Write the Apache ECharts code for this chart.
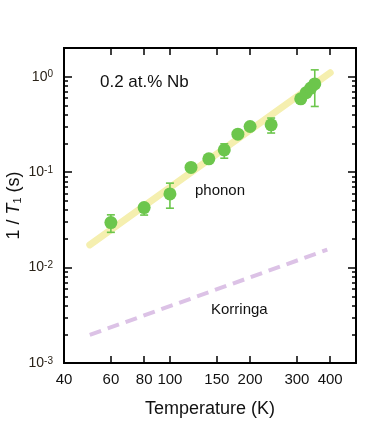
<!DOCTYPE html>
<html>
<head>
<meta charset="utf-8">
<style>
  html, body { margin:0; padding:0; background:#fff; }
  #main { width:382px; height:422px; }
</style>
<script src="https://cdn.jsdelivr.net/npm/echarts@6/dist/echarts.min.js"></script>
</head>
<body>
<div id="main"></div>
<script>
// measured points: temperature (K) and 1/T1 (s^-1)
var temps = [60, 80, 100, 120, 140, 160, 180, 200, 240, 310, 325, 338, 350];
var rates = [0.0296, 0.0425, 0.0592, 0.112, 0.138, 0.171, 0.25, 0.301, 0.313, 0.587, 0.68, 0.76, 0.84];
// error bar limits, null = no bar drawn
var errLow  = [0.0234, 0.0355, 0.0419, null, null, 0.140, null, null, 0.257, null, null, null, 0.488];
var errHigh = [0.0357, 0.046, 0.0767, null, null, 0.198, null, null, 0.369, null, null, null, 1.18];

// guide lines (end points)
var phononT = [50, 400];
var phononR = [0.0173, 1.1];
var korringaT = [50, 390];
var korringaR = [0.00197, 0.0154];

// axis ticks
var xTicks = [60, 80, 100, 150, 200, 300, 400];
var xLabels = [40, 60, 80, 100, 150, 200, 300, 400];
var yMajor = [0.001, 0.01, 0.1, 1];
var yMinor = [];
[0.001, 0.01, 0.1, 1].forEach(function (d) {
  for (var k = 2; k <= 9; k++) {
    var v = +(d * k).toPrecision(3);
    if (v <= 2) yMinor.push(v);
  }
});

var green = '#6cc64c';
var axisCol = '#000';

function pairs(a, b) {
  return a.map(function (v, i) { return [v, b[i]]; });
}

var points = pairs(temps, rates);
var bars = [];
temps.forEach(function (t, i) {
  if (errLow[i] != null) bars.push([t, errLow[i], errHigh[i]]);
});

function supLabel(v) {
  var e = Math.round(Math.log(v) / Math.LN10);
  return '{b|10}{s|' + e + '}';
}

var frameLine = { show: true, lineStyle: { color: axisCol, width: 2 } };

function yAxisDef(pos, ticks, len, labels) {
  return {
    type: 'log', logBase: 10, min: 0.001, max: 2, position: pos,
    axisLine: frameLine,
    splitLine: { show: false },
    axisTick: { show: true, inside: true, length: len, customValues: ticks,
      lineStyle: { color: axisCol, width: 1.5 } },
    axisLabel: labels ? {
      show: true, margin: 11, customValues: yMajor,
      formatter: supLabel,
      rich: {
        b: { fontSize: 14, color: '#2a2218', fontFamily: 'Liberation Sans' },
        s: { fontSize: 10, color: '#2a2218', fontFamily: 'Liberation Sans', verticalAlign: 'top' }
      }
    } : { show: false }
  };
}

var yAxes = [
  yAxisDef('left', yMajor, 8, true),
  yAxisDef('left', yMinor, 4, false),
  yAxisDef('right', yMajor, 8, false),
  yAxisDef('right', yMinor, 4, false)
];
yAxes[0].name = '{n|1 / }{i|T}{sub|1}{n| (s)}';
yAxes[0].nameLocation = 'middle';
yAxes[0].nameGap = 41;
yAxes[0].nameMoveOverlap = false;
yAxes[0].nameRotate = 90;
yAxes[0].nameTextStyle = {
  rich: {
    n: { fontSize: 18, color: '#111', fontFamily: 'Liberation Sans' },
    i: { fontSize: 18, color: '#111', fontFamily: 'Liberation Sans', fontStyle: 'italic' },
    sub: { fontSize: 11, color: '#111', fontFamily: 'Liberation Sans', verticalAlign: 'bottom' }
  }
};

function xAxisDef(pos, labels) {
  return {
    type: 'log', logBase: 10, min: 40, max: 500, position: pos,
    axisLine: frameLine,
    splitLine: { show: false },
    axisTick: { show: true, inside: true, length: 7, customValues: xTicks,
      lineStyle: { color: axisCol, width: 1.5 } },
    axisLabel: labels ? {
      show: true, margin: 9, customValues: xLabels,
      fontSize: 15, color: '#111', fontFamily: 'Liberation Sans'
    } : { show: false }
  };
}

var xAxes = [xAxisDef('bottom', true), xAxisDef('top', false)];
xAxes[0].name = 'Temperature (K)';
xAxes[0].nameLocation = 'middle';
xAxes[0].nameGap = 37;
xAxes[0].nameMoveOverlap = false;
xAxes[0].nameTextStyle = { fontSize: 18, color: '#111', fontFamily: 'Liberation Sans' };

var chart = echarts.init(document.getElementById('main'));
chart.setOption({
  backgroundColor: '#fff',
  animation: false,
  grid: { left: 64, top: 48, right: 26, bottom: 59, containLabel: false, outerBoundsMode: 'none' },
  xAxis: xAxes,
  yAxis: yAxes,
  graphic: [
    { type: 'text', left: 100, top: 74, style: { text: '0.2 at.% Nb', fontSize: 17, fill: '#111', fontFamily: 'Liberation Sans' } },
    { type: 'text', left: 195, top: 183, style: { text: 'phonon', fontSize: 15, fill: '#111', fontFamily: 'Liberation Sans' } },
    { type: 'text', left: 211, top: 302, style: { text: 'Korringa', fontSize: 15, fill: '#111', fontFamily: 'Liberation Sans' } }
  ],
  series: [
    {
      type: 'line', data: pairs(phononT, phononR), symbol: 'none',
      lineStyle: { color: '#f5efaf', width: 7, cap: 'round' }, z: 1
    },
    {
      type: 'line', data: pairs(korringaT, korringaR), symbol: 'none',
      lineStyle: { color: '#dcc2e6', width: 4, type: [12, 7] }, z: 1
    },
    {
      type: 'custom', data: bars, z: 3,
      encode: { x: 0, y: [1, 2] },
      renderItem: function (params, api) {
        var t = api.value(0);
        var lo = api.coord([t, api.value(1)]);
        var hi = api.coord([t, api.value(2)]);
        var w = 4;
        var st = { stroke: green, lineWidth: 1.6 };
        return {
          type: 'group',
          children: [
            { type: 'line', shape: { x1: lo[0], y1: lo[1], x2: hi[0], y2: hi[1] }, style: st },
            { type: 'line', shape: { x1: lo[0] - w, y1: lo[1], x2: lo[0] + w, y2: lo[1] }, style: st },
            { type: 'line', shape: { x1: hi[0] - w, y1: hi[1], x2: hi[0] + w, y2: hi[1] }, style: st }
          ]
        };
      }
    },
    {
      type: 'scatter', data: points, symbol: 'circle', symbolSize: 13, z: 4,
      itemStyle: { color: green, opacity: 1 }
    }
  ]
});
</script>
</body>
</html>
